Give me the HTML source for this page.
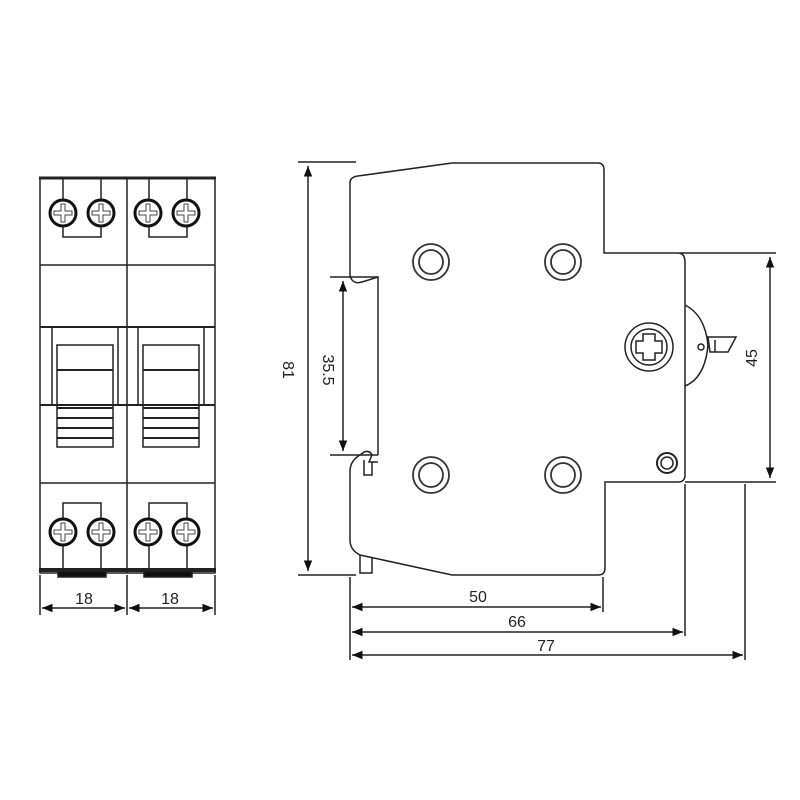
<!DOCTYPE html>
<html><head><style>body{margin:0;background:#fff}svg{display:block}text{font-family:"Liberation Sans",sans-serif;fill:#222}</style></head>
<body>
<svg width="800" height="800" viewBox="0 0 800 800" xmlns="http://www.w3.org/2000/svg">
<defs>
<marker id="a" viewBox="0 0 10 10" refX="10" refY="5" markerWidth="7" markerHeight="7" orient="auto-start-reverse"><path d="M0,1 L10,5 L0,9 z" fill="#111"/></marker>
<g id="scr"><circle r="13" fill="#fff" stroke="#111" stroke-width="3"/><path d="M-9,-2 H-2 V-9 H2 V-2 H9 V2 H2 V9 H-2 V2 H-9 Z" fill="none" stroke="#444" stroke-width="1"/></g>
<g id="hole"><circle r="18" fill="none" stroke="#333" stroke-width="1.8"/><circle r="12" fill="none" stroke="#333" stroke-width="1.8"/></g>
</defs>
<g stroke="#222" fill="none" stroke-width="1.5">
<rect x="40" y="178" width="175" height="395"/>
<line x1="39" y1="178" x2="216" y2="178" stroke-width="3"/>
<line x1="127" y1="178" x2="127" y2="573"/>
<line x1="40" y1="265" x2="215" y2="265"/>
<line x1="40" y1="327" x2="215" y2="327" stroke-width="2"/>
<line x1="40" y1="405" x2="215" y2="405" stroke-width="2"/>
<line x1="40" y1="483" x2="215" y2="483"/>
<line x1="39" y1="570" x2="216" y2="570" stroke-width="4"/>
<g id="pole">
<path d="M63,178 V200 M101,178 V200 M63,226 V237 H101 V226"/>
<path d="M63,545 V570 M101,545 V570 M63,519 V503 H101 V519"/>
<line x1="52" y1="327" x2="52" y2="405"/><line x1="118" y1="327" x2="118" y2="405"/>
<rect x="57" y="345" width="56" height="102"/>
<line x1="57" y1="370" x2="113" y2="370" stroke-width="2"/>
<path d="M57,408 H113 M57,418 H113 M57,428 H113 M57,438 H113" stroke-width="2"/>
<rect x="58" y="571" width="48" height="6" fill="#111"/>
</g>
<use href="#pole" x="86"/>
<use href="#scr" x="63" y="213"/><use href="#scr" x="101" y="213"/><use href="#scr" x="148" y="213"/><use href="#scr" x="186" y="213"/>
<use href="#scr" x="63" y="532"/><use href="#scr" x="101" y="532"/><use href="#scr" x="148" y="532"/><use href="#scr" x="186" y="532"/>
<line x1="40" y1="575" x2="40" y2="615"/><line x1="127" y1="575" x2="127" y2="615"/><line x1="215" y1="575" x2="215" y2="615"/>
<line x1="42" y1="608" x2="125" y2="608" marker-start="url(#a)" marker-end="url(#a)"/>
<line x1="129" y1="608" x2="213" y2="608" marker-start="url(#a)" marker-end="url(#a)"/>

<path d="M350,183 Q350,177 358,176 L452,163 H598 Q604,163 604,170 V253 H678 Q685,253 685,262 V475 Q685,482 678,482 H605 V568 Q605,575 598,575 H452 L360,555 Q350,550 350,540 V470 Q351,460 360,455 M350,183 V275 Q352,285 362,282 L378,277 V455"/>
<path d="M360,455 L364,452 Q370,450 372,455 L369,462 H378 M364,460 V475 H372 V462"/>
<path d="M360,555 V573 H372 V557"/>
<use href="#hole" x="431" y="262"/><use href="#hole" x="563" y="262"/><use href="#hole" x="431" y="475"/><use href="#hole" x="563" y="475"/>
<circle cx="649" cy="347" r="24"/><circle cx="649" cy="347" r="18"/>
<path d="M643,334 H655 V341 H662 V353 H655 V360 H643 V353 H636 V341 H643 Z"/>
<circle cx="667" cy="463" r="10" stroke-width="2"/><circle cx="667" cy="463" r="6"/>
<path d="M685,305 Q705,315 708,345 Q705,378 685,386"/>
<circle cx="701" cy="347" r="3"/>
<path d="M708,337 H736 L728,352 H710 Z M715,340 V352"/>
<line x1="298" y1="162" x2="356" y2="162"/><line x1="298" y1="575" x2="356" y2="575"/>
<line x1="308" y1="166" x2="308" y2="571" marker-start="url(#a)" marker-end="url(#a)"/>
<line x1="330" y1="277" x2="378" y2="277"/><line x1="330" y1="455" x2="378" y2="455"/>
<line x1="343" y1="281" x2="343" y2="451" marker-start="url(#a)" marker-end="url(#a)"/>
<line x1="680" y1="253" x2="776" y2="253"/><line x1="685" y1="482" x2="776" y2="482"/>
<line x1="770" y1="257" x2="770" y2="478" marker-start="url(#a)" marker-end="url(#a)"/>
<line x1="350" y1="577" x2="350" y2="660"/><line x1="603" y1="577" x2="603" y2="612"/>
<line x1="685" y1="484" x2="685" y2="636"/><line x1="745" y1="484" x2="745" y2="660"/>
<line x1="352" y1="607" x2="601" y2="607" marker-start="url(#a)" marker-end="url(#a)"/>
<line x1="352" y1="632" x2="683" y2="632" marker-start="url(#a)" marker-end="url(#a)"/>
<line x1="352" y1="655" x2="743" y2="655" marker-start="url(#a)" marker-end="url(#a)"/>
</g>
<g font-size="16">
<text x="84" y="604" text-anchor="middle">18</text>
<text x="170" y="604" text-anchor="middle">18</text>
<text x="478" y="602" text-anchor="middle">50</text>
<text x="517" y="627" text-anchor="middle">66</text>
<text x="546" y="651" text-anchor="middle">77</text>
<text transform="translate(283,370) rotate(90)" text-anchor="middle">81</text>
<text transform="translate(323,370) rotate(90)" text-anchor="middle">35.5</text>
<text transform="translate(751,358) rotate(-90)" text-anchor="middle" dy="6">45</text>
</g>
</svg>
</body></html>
